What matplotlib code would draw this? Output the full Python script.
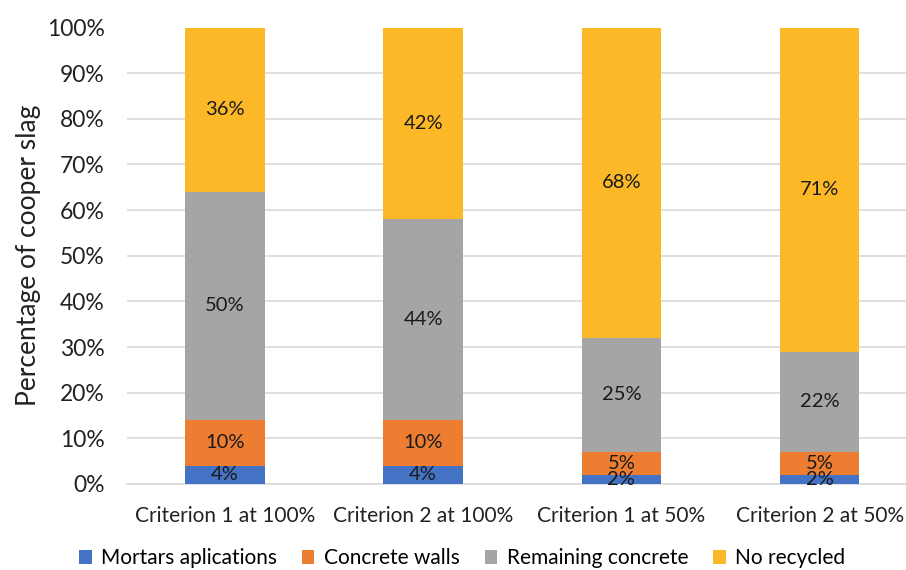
import matplotlib.pyplot as plt
import numpy as np

categories = ['Criterion 1 at 100%', 'Criterion 2 at 100%', 'Criterion 1 at 50%', 'Criterion 2 at 50%']
series_names = ['Mortars aplications', 'Concrete walls', 'Remaining concrete', 'No recycled']
mortars = [4, 4, 2, 2]
walls = [10, 10, 5, 5]
remaining = [50, 44, 25, 22]
no_recycled = [36, 42, 68, 71]
colors = ['#4472C4', '#ED7D31', '#A5A5A5', '#FDB827']

plt.rcParams['font.family'] = ['Lato', 'DejaVu Sans']

fig = plt.figure(figsize=(9.06, 5.70), dpi=100)
ax = fig.add_axes([127 / 906, 1 - 484 / 570, (906 - 127) / 906, (484 - 27.5) / 570])

x = np.arange(len(categories))
bottom = np.zeros(len(categories))
for name, vals, col in zip(series_names, [mortars, walls, remaining, no_recycled], colors):
    vals = np.array(vals, dtype=float)
    ax.bar(x, vals, 0.4, bottom=bottom, color=col, label=name, zorder=3)
    for xi, b, v in zip(x, bottom, vals):
        ax.text(xi, b + v / 2, f'{int(v)}%', ha='center', va='center', fontsize=14.5, color='#1a1a1a', zorder=4)
    bottom += vals

ax.set_xlim(-0.494, 3.436)
ax.set_ylim(0, 100)
ax.set_yticks(range(0, 101, 10))
ax.set_yticklabels([f'{v}%' for v in range(0, 101, 10)], fontsize=16.5, color='#222222')
ax.set_xticks(x)
ax.set_xticklabels(categories, fontsize=15, color='#222222')
ax.tick_params(axis='both', length=0)
ax.tick_params(axis='x', pad=16)
ax.tick_params(axis='y', pad=16)
ax.grid(axis='y', color='#D9D9D9', linewidth=1.2, zorder=0)
for s in ['top', 'right', 'left']:
    ax.spines[s].set_visible(False)
ax.spines['bottom'].set_color('#D9D9D9')
ax.spines['bottom'].set_linewidth(1.2)

ax.set_ylabel('Percentage of cooper slag', fontsize=19, color='#222222', labelpad=4)

fig.legend(loc='lower center', bbox_to_anchor=(0.51, -0.03), ncol=4, frameon=False, fontsize=15,
           handlelength=0.6, handleheight=0.6, handletextpad=0.45, columnspacing=1.2)

fig.savefig('out.png', dpi=100)
